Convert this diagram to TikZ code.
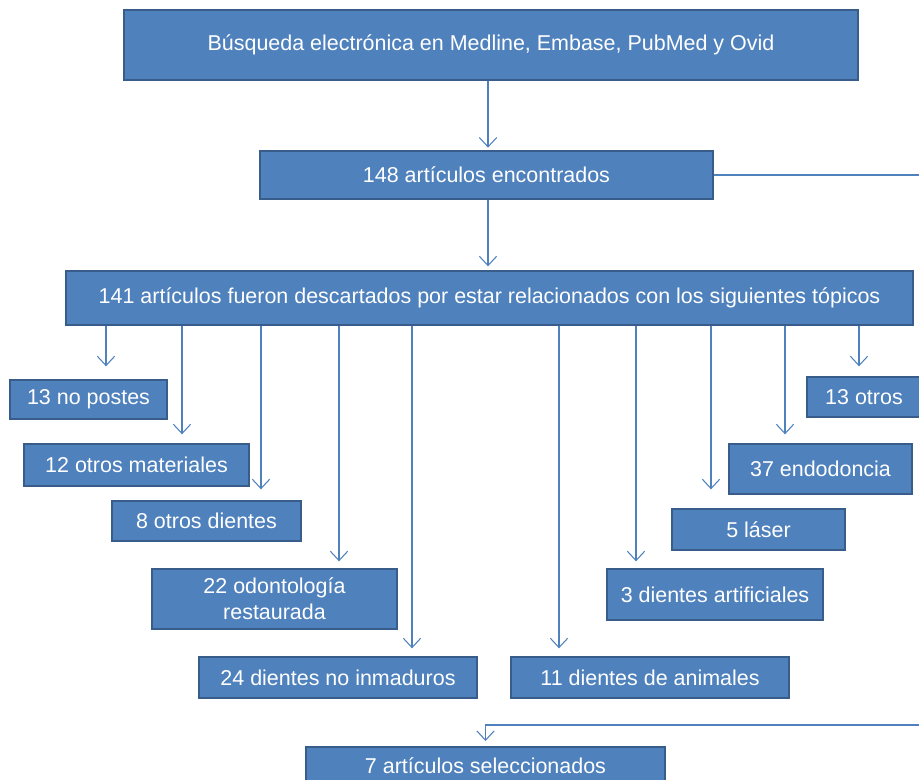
\documentclass[tikz,border=0pt]{standalone}
\usepackage{fontspec}
\setmainfont{Liberation Sans}
\usepackage{tikz}
\usetikzlibrary{arrows.meta}

\definecolor{boxfill}{RGB}{79,129,189}
\definecolor{boxline}{RGB}{56,93,138}
\definecolor{linkline}{RGB}{79,129,189}

\tikzset{
  box/.style={draw=boxline, fill=boxfill, line width=1pt, text=white, inner sep=0.75pt,
    font=\fontsize{16.1}{19.5}\selectfont, align=center},
  link/.style={draw=linkline, line width=0.8pt},
  arr/.style={link, -{Straight Barb[length=7pt,width=13pt]}}
}

\begin{document}
\begin{tikzpicture}[x=0.75pt,y=0.75pt,yscale=-1,xscale=1]
\useasboundingbox (0,0) rectangle (919,779);
\clip (0,0) rectangle (919,779);

%Shape: Rectangle [search]
\node[box, minimum width=550.5pt, minimum height=52.5pt] (search) at (491,45) {Búsqueda electrónica en Medline, Embase, PubMed y Ovid};
%Shape: Rectangle [found]
\node[box, minimum width=339.75pt, minimum height=36pt] (found) at (486.5,175) {148 artículos encontrados};
%Shape: Rectangle [discarded]
\node[box, minimum width=635.25pt, minimum height=40.5pt] (disc) at (489.5,298) {141 artículos fueron descartados por estar relacionados con los siguientes tópicos};

%Shape: Rectangle [topics, left side]
\node[box, minimum width=117.75pt, minimum height=29.25pt] (np) at (88.5,399.5) {13 no postes};
\node[box, minimum width=168.75pt, minimum height=31.5pt] (om) at (136.5,465) {12 otros materiales};
\node[box, minimum width=141.75pt, minimum height=30pt] (od) at (206.5,521) {8 otros dientes};
\node[box, minimum width=183.75pt, minimum height=45pt] (odr) at (274.5,599) {22 odontología\\restaurada};
\node[box, minimum width=208.5pt, minimum height=30.75pt] (din) at (338,677.5) {24 dientes no inmaduros};
%Shape: Rectangle [topics, right side]
\node[box, minimum width=208.5pt, minimum height=30.75pt] (dan) at (650,677.5) {11 dientes de animales};
\node[box, minimum width=162pt, minimum height=38.25pt] (dar) at (715,594.5) {3 dientes artificiales};
\node[box, minimum width=129.75pt, minimum height=30.75pt] (las) at (758.5,529.5) {5 láser};
\node[box, minimum width=137.25pt, minimum height=37.5pt] (endo) at (820.5,469) {37 endodoncia};
\node[box, minimum width=85.5pt, minimum height=30pt] (otr) at (864,397) {13 otros};

%Shape: Rectangle [selected]
\node[box, minimum width=269.25pt, minimum height=28.5pt] (sel) at (485.5,766) {7 artículos seleccionados};

%Straight Lines [main flow]
\draw[arr, shorten >=2pt] (search.south -| 488,0) -- (found.north -| 488,0);
\draw[arr, shorten >=3pt] (found.south -| 488,0) -- (disc.north -| 488,0);

%Straight Lines [discarded topics]
\foreach \x/\n/\g in {106/np/9.75pt, 182/om/6.75pt, 261/od/8.25pt, 339/odr/5.25pt, 412/din/6pt,
                      559/dan/6pt, 636/dar/5.25pt, 711/las/14.25pt, 785/endo/6.75pt, 859/otr/7.5pt}
  \draw[arr, shorten >=\g] (disc.south -| \x,0) -- (\n.north -| \x,0);

%Straight Lines [found -> selected, round the right edge]
\coordinate (edgeR) at (935,725);
\draw[link] (found.east) -- (found.east -| edgeR) -- (edgeR);
\draw[arr, shorten >=4pt] (edgeR) -- (edgeR -| sel.north) -- (sel.north);

\end{tikzpicture}
\end{document}
